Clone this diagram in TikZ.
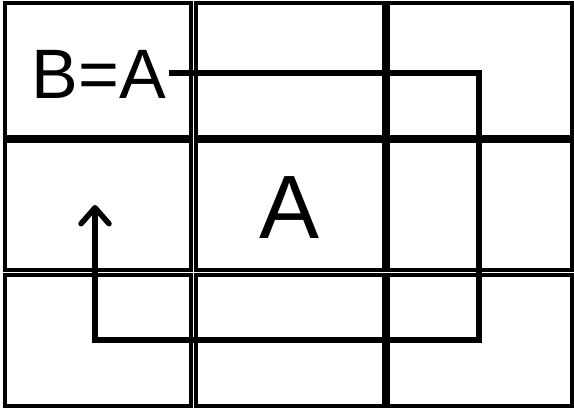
\documentclass[tikz,border=0pt]{standalone}
\usepackage{fontspec}
\setmainfont{Liberation Sans}
\usetikzlibrary{arrows.meta}
\begin{document}
\begin{tikzpicture}[x=1pt,y=-1pt,
  cell/.style={draw=black,line width=4pt},
  route/.style={draw=black,line width=5.5pt,line join=miter},
  lbl/.style={inner sep=0pt,font=\fontsize{70}{84}\selectfont},
  biglbl/.style={inner sep=0pt,font=\fontsize{90}{108}\selectfont}]
\useasboundingbox (0,0) rectangle (574,408);
\fill[white] (0,0) rectangle (574,408);
% grid cells
\foreach \xa/\xb [count=\i] in {4.5/191,195.5/383.5,388/572}{
  \foreach \ya/\yb [count=\j] in {2.5/136.5,141/270,274.5/406}{
    \draw[cell] (\xa,\ya) rectangle (\xb,\yb);
  }
}
\node[lbl] (ba) at (99,74) {B=A};
\node[biglbl] (a) at (290,207.5) {A};
\coordinate (s) at (169,73);
\coordinate (c1) at (479,73);
\coordinate (c2) at (479,340);
\coordinate (c3) at (95,340);
\coordinate (e) at (95,205);
\draw[route,-{Straight Barb[length=16pt,width=28pt,line cap=round,line join=round]}] (s) -- (c1) -- (c2) -- (c3) -- (e);
\end{tikzpicture}
\end{document}
